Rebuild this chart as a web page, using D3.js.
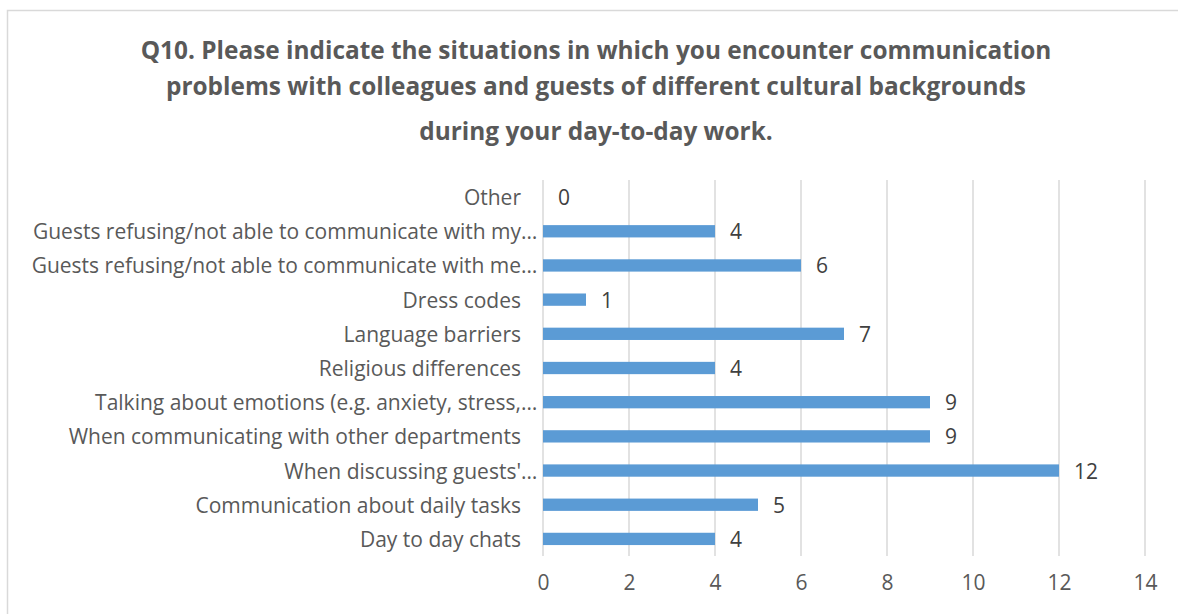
<!DOCTYPE html>
<html>
<head>
<meta charset="utf-8">
<script src="https://cdn.jsdelivr.net/npm/d3@7"></script>
<style>
  html, body { margin: 0; padding: 0; background: #fff; }
  svg { display: block; }
</style>
</head>
<body>
<svg id="chart" width="1178" height="614"></svg>
<script>
// Survey answers, listed top to bottom as they appear on the chart
const categories = [
  "Other",
  "Guests refusing/not able to communicate with my…",
  "Guests refusing/not able to communicate with me…",
  "Dress codes",
  "Language barriers",
  "Religious differences",
  "Talking about emotions (e.g. anxiety, stress,…",
  "When communicating with other departments",
  "When discussing guests'…",
  "Communication about daily tasks",
  "Day to day chats"
];
const counts = [0, 4, 6, 1, 7, 4, 9, 9, 12, 5, 4];
const xTicks = [0, 2, 4, 6, 8, 10, 12, 14];
const titleLines = [
  "Q10. Please indicate the situations in which you encounter communication",
  "problems with colleagues and guests of different cultural backgrounds",
  "during your day-to-day work."
];

const FONT = "'Open Sans', sans-serif";
const LABEL_SIZE = 21;
const svg = d3.select("#chart");

// chart frame
svg.append("rect")
  .attr("x", 7.5).attr("y", 10.5)
  .attr("width", 1190).attr("height", 620)
  .attr("fill", "#fff")
  .attr("stroke", "#D9D9D9")
  .attr("stroke-width", 1.5);

// title
const titleY = [49, 85, 130];
svg.append("g").selectAll("text")
  .data(titleLines)
  .join("text")
  .attr("x", 596)
  .attr("y", (d, i) => titleY[i])
  .attr("text-anchor", "middle")
  .attr("dominant-baseline", "central")
  .attr("font-family", FONT)
  .attr("font-weight", "bold")
  .attr("font-size", 24.4)
  .attr("fill", "#595959")
  .text(d => d);

// plot area
const plot = { left: 543, right: 1145, top: 180, bottom: 556 };

const x = d3.scaleLinear()
  .domain([0, 14])
  .range([plot.left, plot.right]);

const y = d3.scaleBand()
  .domain(categories)
  .range([plot.top, plot.bottom])
  .paddingInner(0.64)
  .paddingOuter(0.32);

// vertical gridlines
svg.append("g")
  .selectAll("line")
  .data(xTicks)
  .join("line")
  .attr("x1", d => x(d)).attr("x2", d => x(d))
  .attr("y1", plot.top).attr("y2", plot.bottom)
  .attr("stroke", "#D9D9D9")
  .attr("stroke-width", 1.5);

// x axis tick labels
const xAxis = d3.axisBottom(x).tickValues(xTicks).tickSize(0).tickPadding(0);
const gx = svg.append("g")
  .attr("transform", `translate(0,${plot.bottom + 27})`)
  .call(xAxis);
gx.select(".domain").remove();
gx.selectAll("text")
  .attr("font-family", FONT)
  .attr("font-size", LABEL_SIZE)
  .attr("fill", "#595959")
  .attr("dy", "0.32em");

// category labels; a trailing ellipsis sits just past the label edge
const labelEdge = 521;
const catG = svg.append("g");
categories.forEach(c => {
  const cy = y(c) + y.bandwidth() / 2;
  const cut = c.endsWith("…");
  const body = cut ? c.slice(0, -1) : c;
  catG.append("text")
    .attr("x", labelEdge)
    .attr("y", cy)
    .attr("text-anchor", "end")
    .attr("dominant-baseline", "central")
    .attr("font-family", FONT)
    .attr("font-size", LABEL_SIZE)
    .attr("fill", "#595959")
    .text(body);
  if (cut) {
    catG.append("text")
      .attr("x", labelEdge)
      .attr("y", cy)
      .attr("text-anchor", "start")
      .attr("dominant-baseline", "central")
      .attr("font-family", FONT)
      .attr("font-size", LABEL_SIZE)
      .attr("fill", "#595959")
      .text("…");
  }
});

// bars
svg.append("g")
  .selectAll("rect")
  .data(counts)
  .join("rect")
  .attr("x", x(0))
  .attr("y", (d, i) => y(categories[i]))
  .attr("width", d => x(d) - x(0))
  .attr("height", y.bandwidth())
  .attr("fill", "#5B9BD5");

// value labels
svg.append("g")
  .selectAll("text")
  .data(counts)
  .join("text")
  .attr("x", d => x(d) + 15)
  .attr("y", (d, i) => y(categories[i]) + y.bandwidth() / 2)
  .attr("dominant-baseline", "central")
  .attr("font-family", FONT)
  .attr("font-size", LABEL_SIZE)
  .attr("fill", "#404040")
  .text(d => d);
</script>
</body>
</html>
